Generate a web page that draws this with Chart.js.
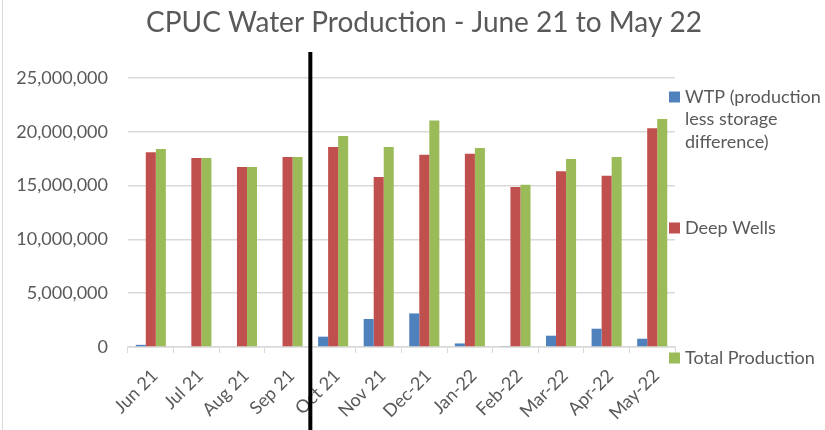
<!DOCTYPE html>
<html>
<head>
<meta charset="utf-8">
<script src="https://cdn.jsdelivr.net/npm/chart.js@4/dist/chart.umd.min.js"></script>
<style>
html,body{margin:0;padding:0;background:#fff;}
#c{display:block;}
</style>
</head>
<body>
<canvas id="c" width="825" height="430"></canvas>
<script>
const categories = ["Jun 21","Jul 21","Aug 21","Sep 21","Oct 21","Nov 21","Dec-21","Jan-22","Feb-22","Mar-22","Apr-22","May-22"];
const wtpValues   = [200000, 0, 0, 0, 960000, 2600000, 3120000, 330000, 50000, 1050000, 1700000, 770000];
const wellsValues = [18090000, 17560000, 16730000, 17650000, 18580000, 15800000, 17870000, 17960000, 14870000, 16330000, 15920000, 20340000];
const totalValues = [18400000, 17560000, 16730000, 17650000, 19600000, 18580000, 21060000, 18490000, 15090000, 17470000, 17650000, 21180000];
const seriesNames = ["WTP (production less storage difference)", "Deep Wells", "Total Production"];
const yTicks = [0, 5000000, 10000000, 15000000, 20000000, 25000000];
const chartTitle = 'CPUC Water Production - June 21 to May 22';
const dividerAt = 3.5; // between Sep 21 and Oct 21

const FONT = "Lato, 'Open Sans', sans-serif";
const GRAY = "#595959";

const decoPlugin = {
  id: 'deco',
  afterDraw(chart) {
    const ctx = chart.ctx;
    const ca = chart.chartArea;
    ctx.save();
    // left frame line
    ctx.strokeStyle = '#d9d9d9';
    ctx.lineWidth = 1;
    ctx.beginPath(); ctx.moveTo(2.5, 0); ctx.lineTo(2.5, 430); ctx.stroke();
    // title
    ctx.fillStyle = GRAY;
    ctx.font = "28px " + FONT;
    ctx.textAlign = 'center';
    ctx.textBaseline = 'middle';
    ctx.fillText(chartTitle, 424, 23);
    // divider line
    const x = chart.scales.x.getPixelForValue(dividerAt);
    ctx.strokeStyle = '#000';
    ctx.lineWidth = 4;
    ctx.beginPath(); ctx.moveTo(x, 52); ctx.lineTo(x, 430); ctx.stroke();
    // legend
    ctx.font = "18px " + FONT;
    ctx.textBaseline = 'middle';
    ctx.textAlign = 'left';
    const centers = [97, 228, 358];
    const markX = ca.right - 6, textX = ca.right + 10, maxW = 825 - textX;
    chart.data.datasets.forEach((ds, i) => {
      const cy = centers[i];
      ctx.fillStyle = ds.backgroundColor;
      ctx.fillRect(markX, cy - 5.5, 11, 11);
      const words = ds.label.split(' ');
      const lines = []; let cur = '';
      words.forEach(w => {
        const t = cur ? cur + ' ' + w : w;
        if (ctx.measureText(t).width > maxW && cur) { lines.push(cur); cur = w; } else cur = t;
      });
      lines.push(cur);
      ctx.fillStyle = GRAY;
      lines.forEach((ln, k) => ctx.fillText(ln, textX, cy + k * 22.5));
    });
    ctx.restore();
  }
};

new Chart(document.getElementById('c'), {
  type: 'bar',
  data: {
    labels: categories,
    datasets: [
      { label: seriesNames[0], data: wtpValues, backgroundColor: '#4F81BD' },
      { label: seriesNames[1], data: wellsValues, backgroundColor: '#C0504D' },
      { label: seriesNames[2], data: totalValues, backgroundColor: '#9BBB59' }
    ]
  },
  options: {
    responsive: false,
    animation: false,
    categoryPercentage: 0.66,
    barPercentage: 1.0,
    layout: { padding: { left: 0, right: 150, top: 78, bottom: 0 } },
    plugins: {
      legend: { display: false },
      tooltip: { enabled: false },
      title: { display: false }
    },
    scales: {
      x: {
        grid: { display: true, drawOnChartArea: false, drawTicks: true, tickLength: 6, color: '#d9d9d9', offset: true },
        border: { display: true, color: '#d9d9d9', width: 1.5 },
        ticks: { color: GRAY, font: { family: FONT, size: 18 }, minRotation: 45, maxRotation: 45, padding: 12, labelOffset: 4, autoSkip: false },
        afterFit(s) { s.height = 83; }
      },
      y: {
        min: 0, max: 25000000,
        grid: { color: '#d9d9d9', lineWidth: 1.5, drawTicks: false },
        border: { display: false },
        afterBuildTicks(s) { s.ticks = yTicks.map(v => ({ value: v })); },
        ticks: {
          color: GRAY, font: { family: FONT, size: 18 }, padding: 20,
          callback: v => v.toLocaleString('en-US')
        },
        afterFit(s) { s.width = 128; }
      }
    }
  },
  plugins: [decoPlugin]
});
</script>
</body>
</html>
